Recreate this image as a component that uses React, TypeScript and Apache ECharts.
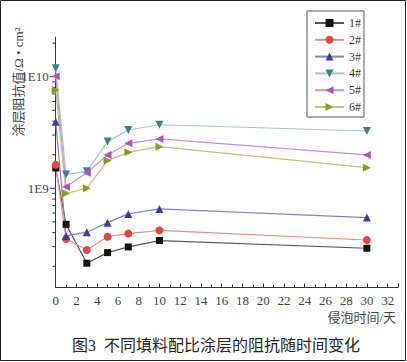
import React, { useEffect, useRef } from "react";
import * as echarts from "echarts";

const days = [0, 1, 3, 5, 7, 10, 30];
const seriesNames = ["1#", "2#", "3#", "4#", "5#", "6#"];
const s1 = [1.52e9, 4.75e8, 2.13e8, 2.65e8, 2.98e8, 3.4e8, 2.9e8];
const s2 = [1.62e9, 3.51e8, 2.8e8, 3.68e8, 3.92e8, 4.2e8, 3.44e8];
const s3 = [3.95e9, 3.74e8, 4.04e8, 4.92e8, 5.89e8, 6.53e8, 5.46e8];
const s4 = [1.19e10, 1.33e9, 1.42e9, 2.62e9, 3.33e9, 3.71e9, 3.26e9];
const s5 = [1.01e10, 1.03e9, 1.38e9, 1.99e9, 2.53e9, 2.77e9, 1.99e9];
const s6 = [7.6e9, 9.0e8, 1.0e9, 1.77e9, 2.1e9, 2.36e9, 1.53e9];
const allSeries = [s1, s2, s3, s4, s5, s6];

const majorTicks = [1e9, 1e10];
const minorTicks = [
  2e8, 3e8, 4e8, 5e8, 6e8, 7e8, 8e8, 9e8,
  2e9, 3e9, 4e9, 5e9, 6e9, 7e9, 8e9, 9e9,
  2e10,
];

const markerColors = ["#111111", "#e04646", "#3b3ba8", "#3a8282", "#b24fc2", "#8a9a1c"];
const lineColors = ["#555555", "#ec8a8a", "#8080cc", "#a4c8c8", "#d08ad8", "#bcc47a"];
const symbols = ["rect", "circle", "triangle", "triangle", "triangle", "triangle"];
const rotations = [0, 0, 0, 180, 90, -90];
const sizes = [7, 8, 8, 8, 8, 8];

const serifFont = "'Liberation Serif', 'DejaVu Serif', 'Noto Sans CJK SC', serif";

export default function App() {
  const ref = useRef<HTMLDivElement>(null);
  useEffect(() => {
    if (!ref.current) return;
    const chart = echarts.init(ref.current, null, { renderer: "svg" });
    const lineSeries = allSeries.map((vals, i) => ({
      name: seriesNames[i],
      type: "line",
      data: days.map((d, j) => [d, vals[j]]),
      symbol: symbols[i],
      symbolSize: sizes[i],
      symbolRotate: rotations[i],
      showAllSymbol: true,
      itemStyle: { color: markerColors[i] },
      lineStyle: { color: lineColors[i], width: 1.2 },
      z: 3,
    }));
    const tickSeries = (vals: number[], len: number, name: string) => ({
      name,
      type: "custom",
      silent: true,
      clip: false,
      data: vals.map((v) => [0, v]),
      renderItem: (_p: any, api: any) => {
        const pt = api.coord([api.value(0), api.value(1)]);
        return {
          type: "line",
          shape: { x1: pt[0] - len, y1: pt[1], x2: pt[0], y2: pt[1] },
          style: { stroke: "#333", lineWidth: 1 },
        };
      },
      z: 1,
    });
    chart.setOption({
      animation: false,
      backgroundColor: "#ffffff",
      grid: { left: 55.7, top: 37, right: 9, bottom: 74.5, containLabel: false },
      legend: {
        data: seriesNames,
        orient: "vertical",
        left: 307,
        top: 11,
        itemWidth: 29,
        itemHeight: 10,
        itemGap: 4.8,
        padding: [6, 3, 4, 7],
        borderColor: "#555",
        borderWidth: 1,
        textStyle: { fontFamily: serifFont, fontSize: 12, color: "#333", padding: [0, 0, 0, 0] },
      },
      xAxis: {
        type: "value",
        min: 0,
        max: 33,
        interval: 2,
        splitLine: { show: false },
        axisLine: { lineStyle: { color: "#333", width: 1 } },
        axisTick: { inside: true, length: 4, lineStyle: { color: "#333" } },
        minorTick: { show: true, splitNumber: 2, length: 3, lineStyle: { color: "#333" } },
        axisLabel: {
          showMaxLabel: false,
          fontFamily: serifFont,
          fontSize: 13,
          lineHeight: 13,
          color: "#444",
          margin: 6,
        },
      },
      yAxis: {
        type: "log",
        logBase: 10,
        min: 1.29e8,
        max: 2.27e10,
        splitLine: { show: false },
        axisLine: { show: true, lineStyle: { color: "#333", width: 1 } },
        axisTick: { show: false },
        axisLabel: {
          showMinLabel: false,
          showMaxLabel: false,
          fontFamily: serifFont,
          fontSize: 13,
          color: "#444",
          margin: 7,
          formatter: (v: number) => "1E" + Math.round(Math.log10(v)),
        },
      },
      graphic: [
        {
          type: "rect",
          shape: { x: 0.5, y: 0.5, width: 405, height: 360 },
          style: { fill: "none", stroke: "#222", lineWidth: 1 },
          silent: true,
        },
        {
          type: "text",
          x: 18,
          y: 82,
          rotation: Math.PI / 2,
          style: {
            text: "涂层阻抗值/Ω • cm²",
            fontFamily: serifFont,
            fontSize: 13,
            fill: "#444",
            align: "center",
            verticalAlign: "middle",
          },
        },
        {
          type: "text",
          x: 396,
          y: 317,
          style: {
            text: "侵泡时间/天",
            fontFamily: serifFont,
            fontSize: 13,
            lineHeight: 13,
            fill: "#444",
            align: "right",
            verticalAlign: "middle",
          },
        },
        {
          type: "text",
          x: 216,
          y: 345,
          style: {
            text: "图3  不同填料配比涂层的阻抗随时间变化",
            fontFamily: serifFont,
            fontSize: 16,
            fill: "#222",
            align: "center",
            verticalAlign: "middle",
          },
        },
      ],
      series: [
        ...lineSeries,
        tickSeries(majorTicks, 6, "major"),
        tickSeries(minorTicks, 3.5, "minor"),
      ],
    });
    return () => chart.dispose();
  }, []);
  return (
    <div
      ref={ref}
      style={{ position: "fixed", left: 0, top: 0, width: 407, height: 362 }}
    />
  );
}
